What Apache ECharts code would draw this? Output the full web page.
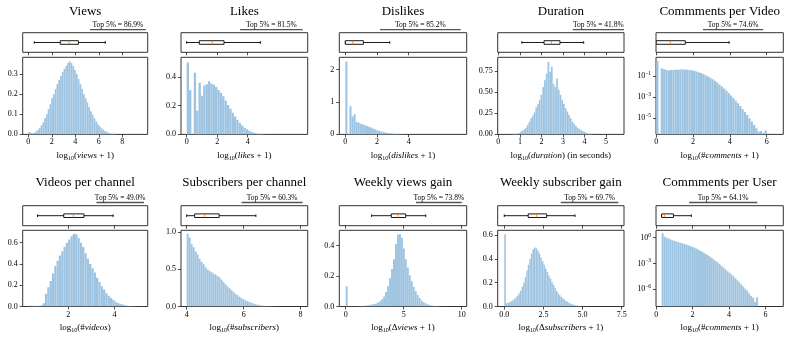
<!DOCTYPE html>
<html>
<head>
<meta charset="utf-8">
<script src="https://cdn.jsdelivr.net/npm/echarts@6.0.0/dist/echarts.min.js"></script>
<style>
    html, body { margin: 0; padding: 0; background: #fff; }
    #chart { width: 789px; height: 338px; }
</style>
</head>
<body>
<div id="chart"></div>
<script>
    // panel titles and "top 5%" notes
    const titles = ['Views', 'Likes', 'Dislikes', 'Duration', 'Commments per Video',
        'Videos per channel', 'Subscribers per channel', 'Weekly views gain', 'Weekly subscriber gain', 'Commments per User'];
    const top5Labels = ['Top 5% = 86.9%', 'Top 5% = 81.5%', 'Top 5% = 85.2%', 'Top 5% = 41.8%', 'Top 5% = 74.6%',
        'Top 5% = 49.0%', 'Top 5% = 60.3%', 'Top 5% = 73.8%', 'Top 5% = 69.7%', 'Top 5% = 64.1%'];
    // x span (data units) of the bar under each note
    const top5Spans = [[5.25, 10.0], [3.5, 7.6], [2.19, 7.28], [3.45, 5.83], [2.54, 5.81],
        [3.22, 5.27], [5.93, 8.07], [6.06, 10.0], [3.61, 7.29], [1.81, 5.55]];

    // box stats: [low whisker, q1, median, q3, high whisker]
    const viewsBox = [0.51, 2.72, 3.46, 4.26, 6.55];
    const likesBox = [0.0, 0.83, 1.68, 2.45, 4.83];
    const dislikesBox = [0.0, 0.0, 0.47, 1.14, 2.8];
    const durationBox = [1.09, 2.12, 2.46, 2.86, 3.96];
    const cpvBox = [0.0, 0.0, 0.77, 1.58, 3.96];
    const videosBox = [0.68, 1.81, 2.23, 2.68, 3.94];
    const subsBox = [4.0, 4.28, 4.63, 5.14, 6.43];
    const wViewsBox = [2.24, 3.93, 4.51, 5.17, 6.9];
    const wSubsBox = [0.0, 1.53, 2.07, 2.71, 4.52];
    const cpuBox = [0.3, 0.3, 0.45, 0.95, 1.93];

    // histograms: first bin edge, bin width, density per bin
    const viewsBinStart = 0, viewsBinWidth = 0.15;
    const viewsDensity = [0.012, 0.008, 0.006, 0.008, 0.014, 0.022, 0.032, 0.045, 0.06, 0.08,
        0.1, 0.125, 0.15, 0.18, 0.2, 0.225, 0.25, 0.27, 0.29, 0.31,
        0.325, 0.34, 0.355, 0.362, 0.355, 0.34, 0.32, 0.3, 0.275, 0.25,
        0.225, 0.2, 0.18, 0.16, 0.135, 0.115, 0.097, 0.08, 0.065, 0.05,
        0.04, 0.03, 0.023, 0.017, 0.012, 0.008, 0.005, 0.003, 0.002, 0.001];

    const likesBinStart = 0, likesBinWidth = 0.155;
    const likesDensity = [0.5, 0.31, 0, 0.43, 0.165, 0.36, 0.27, 0.34, 0.35, 0.37,
        0.355, 0.345, 0.33, 0.31, 0.29, 0.265, 0.235, 0.205, 0.178, 0.15,
        0.125, 0.1, 0.08, 0.062, 0.047, 0.035, 0.025, 0.017, 0.011, 0.007,
        0.004, 0.002, 0.001];

    const dislikesBinStart = 0, dislikesBinWidth = 0.13;
    const dislikesDensity = [2.25, 0, 0.87, 0.55, 0.62, 0.38, 0.37, 0.33, 0.31, 0.28,
        0.26, 0.24, 0.21, 0.18, 0.16, 0.13, 0.11, 0.09, 0.075, 0.06,
        0.047, 0.036, 0.027, 0.019, 0.013, 0.008, 0.005, 0.003, 0.002];

    const durationBinStart = 0.6, durationBinWidth = 0.08;
    const durationDensity = [0.002, 0.003, 0.006, 0.01, 0.018, 0.03, 0.045, 0.06, 0.08, 0.11,
        0.15, 0.19, 0.22, 0.26, 0.32, 0.36, 0.41, 0.47, 0.56, 0.64,
        0.72, 0.86, 0.74, 0.8, 0.6, 0.56, 0.66, 0.53, 0.47, 0.41,
        0.36, 0.31, 0.27, 0.23, 0.19, 0.15, 0.125, 0.1, 0.08, 0.065,
        0.05, 0.04, 0.03, 0.02, 0.012, 0.007, 0.003];

    // log-scale panels: log10 of the density (null = empty bin)
    const cpvBinStart = 0, cpvBinWidth = 0.125;
    const cpvLogDensity = [0.48, null, -0.23, -0.33, -0.38, -0.45, -0.38, -0.4, -0.37, -0.36,
        -0.35, -0.35, -0.35, -0.36, -0.38, -0.41, -0.47, -0.53, -0.6, -0.68,
        -0.78, -0.89, -1.01, -1.14, -1.28, -1.43, -1.6, -1.78, -1.97, -2.17,
        -2.38, -2.6, -2.83, -3.07, -3.32, -3.58, -3.85, -4.13, -4.42, -4.72,
        -5.03, -5.35, -5.68, -6.0, -6.3, -6.25, -6.45, -6.2];

    const videosBinStart = 0.3, videosBinWidth = 0.1;
    const videosDensity = [0.01, 0.008, 0.006, 0.005, 0.006, 0.01, 0.03, 0.12, 0.18, 0.24,
        0.31, 0.38, 0.43, 0.48, 0.52, 0.56, 0.6, 0.63, 0.66, 0.685,
        0.68, 0.645, 0.6, 0.56, 0.5, 0.45, 0.4, 0.36, 0.32, 0.27,
        0.23, 0.19, 0.16, 0.125, 0.1, 0.08, 0.06, 0.045, 0.034, 0.025,
        0.018, 0.012, 0.008, 0.005, 0.003, 0.002, 0.001];

    const subsBinStart = 4.0, subsBinWidth = 0.07;
    const subsDensity = [0.98, 0.93, 0.84, 0.8, 0.74, 0.7, 0.64, 0.6, 0.57, 0.53,
        0.5, 0.48, 0.46, 0.44, 0.43, 0.41, 0.39, 0.36, 0.33, 0.3,
        0.27, 0.245, 0.22, 0.195, 0.17, 0.15, 0.13, 0.113, 0.098, 0.085,
        0.072, 0.061, 0.05, 0.04, 0.032, 0.025, 0.019, 0.014, 0.01, 0.007,
        0.005, 0.003, 0.002, 0.001, 0.001];

    const wViewsBinStart = 0, wViewsBinWidth = 0.17;
    const wViewsDensity = [0.132, 0, 0, 0, 0, 0, 0.001, 0.002, 0.003, 0.005,
        0.007, 0.009, 0.011, 0.013, 0.016, 0.02, 0.026, 0.034, 0.047, 0.066,
        0.095, 0.135, 0.185, 0.245, 0.31, 0.41, 0.47, 0.475, 0.45, 0.38,
        0.31, 0.255, 0.205, 0.165, 0.13, 0.1, 0.075, 0.055, 0.04, 0.03,
        0.022, 0.015, 0.01, 0.007, 0.005, 0.003, 0.002, 0.001];

    const wSubsBinStart = 0, wSubsBinWidth = 0.1;
    const wSubsDensity = [0.606, 0.028, 0.032, 0.036, 0.045, 0.052, 0.062, 0.075, 0.09, 0.11,
        0.13, 0.165, 0.2, 0.245, 0.3, 0.35, 0.4, 0.445, 0.48, 0.495,
        0.49, 0.47, 0.445, 0.41, 0.38, 0.35, 0.32, 0.29, 0.26, 0.235,
        0.205, 0.18, 0.155, 0.13, 0.11, 0.094, 0.08, 0.068, 0.056, 0.046,
        0.037, 0.03, 0.024, 0.019, 0.014, 0.01, 0.007, 0.005, 0.003, 0.002];

    const cpuBinStart = 0.301, cpuBinWidth = 0.108;
    const cpuLogDensity = [0.52, 0.12, 0.0, -0.1, -0.2, -0.3, -0.38, -0.45, -0.52, -0.58,
        -0.65, -0.72, -0.8, -0.88, -0.97, -1.06, -1.15, -1.26, -1.37, -1.49,
        -1.62, -1.76, -1.9, -2.05, -2.2, -2.37, -2.54, -2.71, -2.9, -3.1,
        -3.3, -3.5, -3.7, -3.9, -4.1, -4.3, -4.5, -4.72, -4.95, -5.2,
        -5.45, -5.7, -5.95, -6.2, -6.5, -6.8, -7.0, -7.5, -6.95];

    // tick values
    const viewsXTicks = [0, 2, 4, 6, 8], viewsYTicks = [0, 0.1, 0.2, 0.3];
    const likesXTicks = [0, 2, 4], likesYTicks = [0, 0.2, 0.4];
    const dislikesXTicks = [0, 2, 4], dislikesYTicks = [0, 1, 2];
    const durationXTicks = [0, 1, 2, 3, 4, 5], durationYTicks = [0, 0.25, 0.5, 0.75];
    const cpvXTicks = [0, 2, 4, 6], cpvYTicks = [-5, -3, -1];
    const videosXTicks = [2, 4], videosYTicks = [0, 0.2, 0.4, 0.6];
    const subsXTicks = [4, 6, 8], subsYTicks = [0, 0.5, 1.0];
    const wViewsXTicks = [0, 5, 10], wViewsYTicks = [0, 0.2, 0.4];
    const wSubsXTicks = [0, 2.5, 5, 7.5], wSubsYTicks = [0, 0.2, 0.4, 0.6];
    const cpuXTicks = [0, 2, 4, 6], cpuYTicks = [-6, -3, 0];

    // x-axis names: [text, italic part, tail]
    const xNames = [
        ['(', 'views', ' + 1)'], ['(', 'likes', ' + 1)'], ['(', 'dislikes', ' + 1)'],
        ['(', 'duration', ') (in seconds)'], ['(#', 'comments', ' + 1)'],
        ['(#', 'videos', ')'], ['(#', 'subscribers', ')'], ['(Δ', 'views', ' + 1)'],
        ['(Δ', 'subscribers', ' + 1)'], ['(#', 'comments', ' + 1)']
    ];

    const panels = [
        {box: viewsBox, start: viewsBinStart, w: viewsBinWidth, h: viewsDensity, xr: [-0.48, 10.16], yr: [0, 0.383], xt: viewsXTicks, yt: viewsYTicks, xDec: 0, yDec: 1},
        {box: likesBox, start: likesBinStart, w: likesBinWidth, h: likesDensity, xr: [-0.37, 7.93], yr: [0, 0.537], xt: likesXTicks, yt: likesYTicks, xDec: 0, yDec: 1},
        {box: dislikesBox, start: dislikesBinStart, w: dislikesBinWidth, h: dislikesDensity, xr: [-0.38, 7.66], yr: [0, 2.38], xt: dislikesXTicks, yt: dislikesYTicks, xDec: 0, yDec: 0},
        {box: durationBox, start: durationBinStart, w: durationBinWidth, h: durationDensity, xr: [-0.03, 5.83], yr: [0, 0.912], xt: durationXTicks, yt: durationYTicks, xDec: 0, yDec: 2},
        {box: cpvBox, start: cpvBinStart, w: cpvBinWidth, h: cpvLogDensity, xr: [-0.01, 6.9], yr: [-6.58, 0.83], xt: cpvXTicks, yt: cpvYTicks, xDec: 0, log: true},
        {box: videosBox, start: videosBinStart, w: videosBinWidth, h: videosDensity, xr: [0.04, 5.43], yr: [0, 0.717], xt: videosXTicks, yt: videosYTicks, xDec: 0, yDec: 1},
        {box: subsBox, start: subsBinStart, w: subsBinWidth, h: subsDensity, xr: [3.8, 8.25], yr: [0, 1.027], xt: subsXTicks, yt: subsYTicks, xDec: 0, yDec: 1},
        {box: wViewsBox, start: wViewsBinStart, w: wViewsBinWidth, h: wViewsDensity, xr: [-0.55, 10.43], yr: [0, 0.499], xt: wViewsXTicks, yt: wViewsYTicks, xDec: 0, yDec: 1},
        {box: wSubsBox, start: wSubsBinStart, w: wSubsBinWidth, h: wSubsDensity, xr: [-0.42, 7.65], yr: [0, 0.64], xt: wSubsXTicks, yt: wSubsYTicks, xDec: 1, yDec: 1},
        {box: cpuBox, start: cpuBinStart, w: cpuBinWidth, h: cpuLogDensity, xr: [-0.01, 6.98], yr: [-8.03, 0.87], xt: cpuXTicks, yt: cpuYTicks, xDec: 0, log: true}
    ];

    // layout (pixels)
    const COL_X = [[22.7, 147.7], [181, 307.7], [339.3, 466.7], [497.7, 624], [656, 783.3]];
    const ROWS = [
        {title: 12, note: 25.5, noteLine: 29.7, boxTop: 32.7, boxBot: 52.3, histTop: 57.3, histBot: 134.4},
        {title: 182.3, note: 198, noteLine: 202.5, boxTop: 205.7, boxBot: 225.7, histTop: 230.3, histBot: 306.5}
    ];
    const SERIF = 'Liberation Serif';
    const FRAME = '#333';
    const BAR_FILL = '#9cc3e1';
    const BAR_EDGE = 'rgba(255,255,255,0.15)';
    const MEDIAN = '#ff7f0e';

    const tickStyle = {color: '#222', width: 0.8};
    const labelRich = {
        b: {fontFamily: SERIF, fontSize: 8, color: '#000', lineHeight: 11},
        e: {fontFamily: SERIF, fontSize: 5.5, color: '#000', verticalAlign: 'top'}
    };
    const nameRich = {
        n: {fontFamily: SERIF, fontSize: 9, color: '#000', lineHeight: 12},
        s: {fontFamily: SERIF, fontSize: 6, color: '#000', verticalAlign: 'bottom'},
        i: {fontFamily: SERIF, fontSize: 9, color: '#000', fontStyle: 'italic', lineHeight: 12}
    };

    function histRender(base) {
        return function (params, api) {
            const a = api.coord([api.value(0), base]);
            const b = api.coord([api.value(1), api.value(2)]);
            return {
                type: 'rect',
                shape: {x: a[0], y: b[1], width: b[0] - a[0], height: a[1] - b[1]},
                style: {fill: BAR_FILL, stroke: BAR_EDGE, lineWidth: 0.4}
            };
        };
    }

    function boxRender(params, api) {
        const p = [0, 1, 2, 3, 4].map(k => api.coord([api.value(k), 0.5]));
        const cy = p[0][1];
        const bh = 1.8, ch = 1.3;
        const ln = (x1, y1, x2, y2, c) => ({
            type: 'line', shape: {x1: x1, y1: y1, x2: x2, y2: y2},
            style: {stroke: c || '#000', lineWidth: 0.9}
        });
        return {
            type: 'group',
            children: [
                ln(p[0][0], cy, p[1][0], cy),
                ln(p[3][0], cy, p[4][0], cy),
                ln(p[0][0], cy - ch, p[0][0], cy + ch),
                ln(p[4][0], cy - ch, p[4][0], cy + ch),
                {type: 'rect', shape: {x: p[1][0], y: cy - bh, width: p[3][0] - p[1][0], height: 2 * bh},
                    style: {fill: '#fff', stroke: '#000', lineWidth: 0.9}},
                ln(p[2][0], cy - bh, p[2][0], cy + bh, MEDIAN)
            ]
        };
    }

    const chart = echarts.init(document.getElementById('chart'));
    const grids = [], xAxes = [], yAxes = [], series = [];

    panels.forEach((p, i) => {
        const row = ROWS[Math.floor(i / 5)];
        const [l, r] = COL_X[i % 5];
        const gBox = 2 * i, gHist = 2 * i + 1;
        grids.push({left: l, top: row.boxTop, width: r - l, height: row.boxBot - row.boxTop,
            show: true, borderColor: FRAME, borderWidth: 1, backgroundColor: '#fff'});
        grids.push({left: l, top: row.histTop, width: r - l, height: row.histBot - row.histTop,
            show: true, borderColor: FRAME, borderWidth: 1, backgroundColor: '#fff'});

        // box axes: ticks only
        xAxes.push({
            gridIndex: gBox, type: 'value', min: p.xr[0], max: p.xr[1],
            axisLine: {show: false, onZero: false}, splitLine: {show: false},
            axisTick: {show: true, length: 3, customValues: p.xt, lineStyle: tickStyle},
            axisLabel: {show: false, customValues: p.xt}
        });
        yAxes.push({gridIndex: gBox, type: 'value', min: 0, max: 1, show: false});

        const nm = xNames[i];
        xAxes.push({
            gridIndex: gHist, type: 'value', min: p.xr[0], max: p.xr[1],
            axisLine: {show: false, onZero: false}, splitLine: {show: false},
            axisTick: {show: true, length: 3, customValues: p.xt, lineStyle: tickStyle},
            axisLabel: {customValues: p.xt, margin: 4, fontFamily: SERIF, fontSize: 8, color: '#000',
                formatter: v => v.toFixed(p.xDec)},
            name: '{n|log}{s|10}{n|' + nm[0] + '}{i|' + nm[1] + '}{n|' + nm[2] + '}',
            nameLocation: 'middle', nameGap: 15,
            nameTextStyle: {rich: nameRich}
        });
        yAxes.push({
            gridIndex: gHist, type: 'value', min: p.yr[0], max: p.yr[1],
            axisLine: {show: false, onZero: false}, splitLine: {show: false},
            axisTick: {show: true, length: 3, customValues: p.yt, lineStyle: tickStyle},
            axisLabel: {
                customValues: p.yt, margin: 5, fontFamily: SERIF, fontSize: 8, color: '#000',
                formatter: p.log
                    ? v => '{b|10}{e|' + (v < 0 ? '−' + (-v) : String(v)) + '}'
                    : v => v.toFixed(p.yDec),
                rich: labelRich
            }
        });

        const data = [];
        p.h.forEach((h, k) => {
            if (h === null) return;
            data.push([p.start + k * p.w, p.start + (k + 1) * p.w, h]);
        });
        series.push({
            type: 'custom', xAxisIndex: gHist, yAxisIndex: gHist, clip: true,
            renderItem: histRender(p.yr[0]), data: data, silent: true
        });
        series.push({
            type: 'custom', xAxisIndex: gBox, yAxisIndex: gBox, clip: true,
            renderItem: boxRender, data: [p.box], silent: true
        });
    });

    chart.setOption({
        animation: false,
        backgroundColor: '#fff',
        grid: grids,
        xAxis: xAxes,
        yAxis: yAxes,
        series: series
    });

    // titles and "top 5%" notes
    const graphics = [];
    panels.forEach((p, i) => {
        const row = ROWS[Math.floor(i / 5)];
        const [l, r] = COL_X[i % 5];
        graphics.push({
            type: 'text', x: (l + r) / 2, y: row.title, silent: true,
            style: {text: titles[i], font: '13px "' + SERIF + '"', fill: '#000',
                align: 'center', verticalAlign: 'middle', textAlign: 'center', textVerticalAlign: 'middle'}
        });
        const x0 = chart.convertToPixel({xAxisIndex: 2 * i}, top5Spans[i][0]);
        const x1 = chart.convertToPixel({xAxisIndex: 2 * i}, top5Spans[i][1]);
        graphics.push({
            type: 'line', silent: true,
            shape: {x1: x0, y1: row.noteLine, x2: x1, y2: row.noteLine},
            style: {stroke: '#555', lineWidth: 1.3}
        });
        graphics.push({
            type: 'text', x: (x0 + x1) / 2, y: row.note, silent: true,
            style: {text: top5Labels[i], font: '7.5px "' + SERIF + '"', fill: '#000',
                align: 'center', verticalAlign: 'middle', textAlign: 'center', textVerticalAlign: 'middle'}
        });
    });
    chart.setOption({graphic: graphics});
</script>
</body>
</html>
